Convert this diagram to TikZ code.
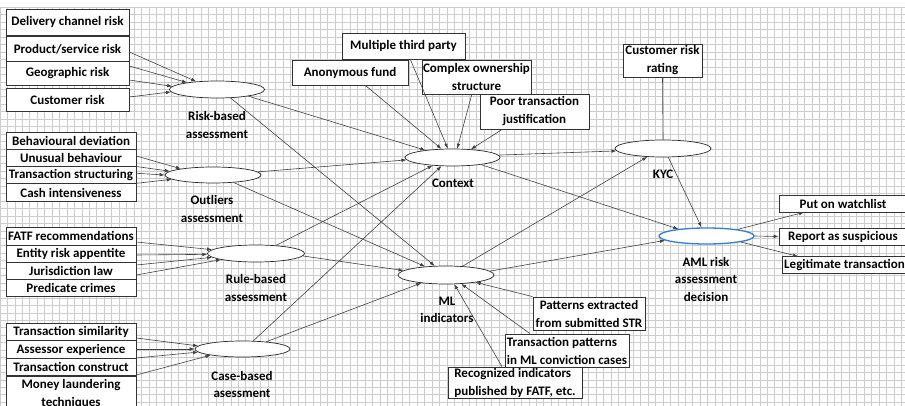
\documentclass[tikz,border=0pt]{standalone}
\usepackage{fontspec}
\setmainfont{Carlito}
\usetikzlibrary{arrows.meta,shapes.geometric}
\definecolor{amlblue}{RGB}{45,125,225}
\tikzset{
  box/.style={draw=black!80,fill=white,line width=0.7pt,inner sep=0pt,align=center,
    font=\fontsize{13}{18}\selectfont\bfseries},
  lbox/.style={box,minimum width=130,minimum height=17.4},
  oval/.style={draw=black!85,fill=white,line width=0.7pt,ellipse,inner sep=0pt,
    minimum width=95,minimum height=17},
  lbl/.style={align=center,inner sep=0pt,font=\fontsize{13}{17.5}\selectfont\bfseries},
  arr/.style={draw=black!75,line width=0.6pt,-{Latex[length=5pt,width=3.6pt]}},
  gridline/.style={draw=black!20,line width=0.8pt}
}
\begin{document}
\begin{tikzpicture}[x=1pt,y=-1pt]
\useasboundingbox (0,0) rectangle (905,406);
\draw[gridline,step=7.45pt] (0,406) grid (905,7);
\node[box,minimum width=123,minimum height=26] (deliv) at (67.5,22) {Delivery channel risk};
\node[box,minimum width=123,minimum height=25] (prod) at (67.5,49) {Product/service risk};
\node[box,minimum width=123,minimum height=24] (geo) at (67.5,73.5) {Geographic risk};
\node[box,minimum width=123,minimum height=23.5] (cust) at (67.5,100) {Customer risk};
\node[lbox] (behav) at (71,141) {Behavioural deviation};
\node[lbox] (unus) at (71,158) {Unusual behaviour};
\node[lbox] (struct) at (71,175.3) {Transaction structuring};
\node[lbox] (cash) at (71,192.5) {Cash intensiveness};
\node[lbox] (fatf) at (71,236.3) {FATF recommendations};
\node[lbox] (entity) at (71,254) {Entity risk appentite};
\node[lbox] (juris) at (71,271.3) {Jurisdiction law};
\node[lbox] (pred) at (71,288) {Predicate crimes};
\node[lbox] (tsim) at (71,332) {Transaction similarity};
\node[lbox] (asses) at (71,349.5) {Assessor experience};
\node[lbox] (tcons) at (71,367) {Transaction construct};
\node[lbox,minimum height=36] (mlt) at (71,394) {Money laundering\\techniques};
\node[box,minimum width=116,minimum height=25] (anon) at (350,72.5) {Anonymous fund};
\node[box,minimum width=123,minimum height=26] (multi) at (403.5,46) {Multiple third party};
\node[box,minimum width=109,minimum height=34] (cplx) at (476.5,77) {Complex ownership\\structure};
\node[box,minimum width=109,minimum height=35] (poor) at (534.5,111.5) {Poor transaction\\justification};
\node[box,minimum width=79,minimum height=33] (crr) at (662.5,60.5) {Customer risk\\rating};
\node[box,minimum width=112,minimum height=33] (pext) at (589,313.5) {Patterns extracted\\from submitted STR};
\node[box,minimum width=124,minimum height=33,align=left] (tpat) at (567,350.5) {Transaction patterns\\in ML conviction cases};
\node[box,minimum width=134,minimum height=31,align=left] (recog) at (515,382.5) {Recognized indicators\\published by FATF, etc.};
\node[box,minimum width=128,minimum height=17] (put) at (843,203.5) {Put on watchlist};
\node[box,minimum width=128,minimum height=17] (report) at (843,236.5) {Report as suspicious};
\node[box,minimum width=125,minimum height=16.6] (legit) at (844.5,265) {Legitimate transaction};
\node[oval] (rb) at (217,89.5) {};
\node[oval,minimum width=96,minimum height=16] (out) at (213,175) {};
\node[oval,minimum width=97] (rule) at (256,253.5) {};
\node[oval,minimum height=16] (case) at (242.5,349) {};
\node[oval] (ctx) at (452.5,157.5) {};
\node[oval,minimum width=96,minimum height=18] (ml) at (446,275) {};
\node[oval,minimum width=96] (kyc) at (663,148.5) {};
\node[oval,draw=amlblue,line width=1.3pt,minimum height=16] (aml) at (706.5,236) {};
\node[lbl] (rblbl) at (217,125) {Risk-based\\assessment};
\node[lbl] (outlbl) at (212,209) {Outliers\\assessment};
\node[lbl] (rulelbl) at (256,288) {Rule-based\\assessment};
\node[lbl] (caselbl) at (242,384.5) {Case-based\\asessment};
\node[lbl] (ctxlbl) at (453,183) {Context};
\node[lbl] (mllbl) at (447,310) {ML\\indicators};
\node[lbl] (kyclbl) at (663,174) {KYC};
\node[lbl] (amllbl) at (706,279) {AML risk\\assessment\\decision};
\draw[arr] ([yshift=-3]prod.east) -- (rb.159);
\draw[arr] ([yshift=7.5]geo.east) -- (rb.167);
\draw[arr] ([yshift=-6.5]geo.east) -- (rb.176);
\draw[arr] ([yshift=3]cust.east) -- (rb.183);
\draw[arr] ([yshift=2]unus.east) -- (out.169);
\draw[arr] ([yshift=-8.5]unus.east) -- (out.175);
\draw[arr] ([yshift=2]struct.east) -- (out.180);
\draw[arr] ([yshift=-8]struct.east) -- (out.186);
\draw[arr] ([yshift=-5.7]fatf.east) -- (rule.175);
\draw[arr] ([yshift=-1]entity.east) -- (rule.181);
\draw[arr] ([yshift=6.3]juris.east) -- (rule.185);
\draw[arr] ([yshift=-3.7]juris.east) -- (rule.190);
\draw[arr] ([yshift=-6]tsim.east) -- (case.176);
\draw[arr] ([yshift=0.5]asses.east) -- (case.180);
\draw[arr] ([yshift=9]tcons.east) -- (case.184);
\draw[arr] ([yshift=-8]tcons.east) -- (case.191);
\draw[arr] (rb.348) -- (ctx.165);
\draw[arr] (rb.328) -- (ml.141);
\draw[arr] (out.4) -- (ctx.183);
\draw[arr] (out.340) -- (ml.158);
\draw[arr] (rule.22) -- (ctx.202);
\draw[arr] (rule.357) -- (ml.174);
\draw[arr] (case.37) -- (ctx.218);
\draw[arr] (case.17) -- (ml.198);
\draw[arr] (anon.320) -- (ctx.142);
\draw[arr] (multi.297) -- (ctx.118);
\draw[arr] (cplx.255) -- (ctx.62);
\draw[arr] (poor.209) -- (ctx.24);
\draw[arr] (ctx.3) -- (kyc.183);
\draw[arr] (ctx.346) -- (aml.166);
\draw[arr] (ml.28) -- (kyc.208);
\draw[arr] (ml.5) -- (aml.186);
\draw[arr] (kyc.301) -- (aml.120);
\draw[draw=black!75,line width=0.6pt] (crr.south) -- (kyc.north);
\draw[arr] (aml.12) -- ([xshift=-39]put.south);
\draw[arr] (aml.east) -- (report.west);
\draw[arr] (aml.350) -- ([xshift=-46.5]legit.north);
\draw[arr] (pext.north west) -- (ml.346);
\draw[arr] ([xshift=-37]tpat.north) -- (ml.330);
\draw[arr] ([xshift=-13]recog.north) -- (ml.312);
\end{tikzpicture}
\end{document}
